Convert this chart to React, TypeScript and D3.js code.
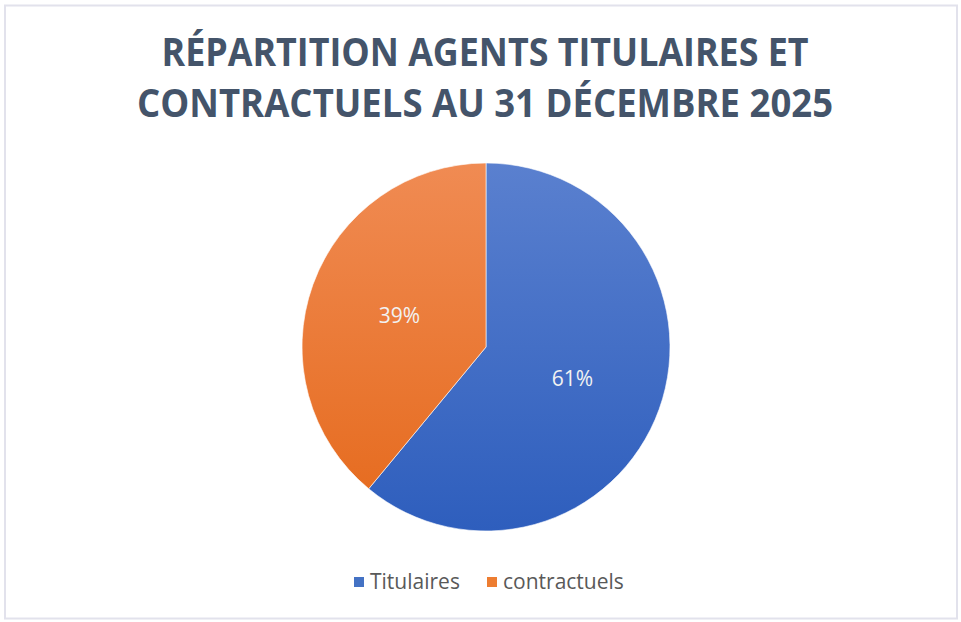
import React, { useEffect, useRef } from 'react';
import * as d3 from 'd3';

const categories = ['Titulaires', 'contractuels'];
const values = [61, 39];
const labels = ['61%', '39%'];
const titleLines = ['RÉPARTITION AGENTS TITULAIRES ET', 'CONTRACTUELS AU 31 DÉCEMBRE 2025'];

const colors = [
  { top: '#5a80cf', bottom: '#2e5ebd', solid: '#4472c4' },
  { top: '#f08b53', bottom: '#e5691b', solid: '#ed7d31' },
];

const App = () => {
  const svgRef = useRef<SVGSVGElement>(null);

  useEffect(() => {
    const svg = d3.select(svgRef.current);
    svg.selectAll('*').remove();

    const width = 961;
    const height = 622;
    const cx = 486;
    const cy = 347;
    const radius = 184;
    const font = "'Open Sans', 'Noto Sans', sans-serif";

    svg.append('rect')
      .attr('x', 0).attr('y', 0)
      .attr('width', width).attr('height', height)
      .attr('fill', '#fff');

    // frame
    svg.append('rect')
      .attr('x', 5).attr('y', 5.5)
      .attr('width', 952).attr('height', 613)
      .attr('fill', 'none')
      .attr('stroke', '#e2e2ec')
      .attr('stroke-width', 2);

    // gradients are in the pie group's coordinates (centred on 0,0)
    const defs = svg.append('defs');
    colors.forEach((c, i) => {
      const g = defs.append('linearGradient')
        .attr('id', `grad${i}`)
        .attr('gradientUnits', 'userSpaceOnUse')
        .attr('x1', 0).attr('y1', -radius)
        .attr('x2', 0).attr('y2', radius);
      g.append('stop').attr('offset', '0%').attr('stop-color', c.top);
      g.append('stop').attr('offset', '100%').attr('stop-color', c.bottom);
    });

    // title
    const title = svg.append('g')
      .attr('font-family', font)
      .attr('font-weight', 700)
      .attr('font-size', 40)
      .attr('fill', '#44546a')
      .attr('text-anchor', 'middle');
    const titleWidths = [647, 696];
    titleLines.forEach((t, i) => {
      title.append('text')
        .attr('x', 485)
        .attr('y', 66 + i * 51)
        .attr('textLength', titleWidths[i])
        .attr('lengthAdjust', 'spacingAndGlyphs')
        .text(t);
    });

    const pie = d3.pie<number>().sort(null).value(d => d);
    const arcs = pie(values);
    const arc = d3.arc<d3.PieArcDatum<number>>().innerRadius(0).outerRadius(radius);

    const g = svg.append('g').attr('transform', `translate(${cx},${cy})`);
    g.selectAll('path')
      .data(arcs)
      .join('path')
      .attr('d', arc)
      .attr('fill', (_d, i) => `url(#grad${i})`)
      .attr('stroke', '#fff')
      .attr('stroke-width', 0.6);

    g.selectAll('text.lbl')
      .data(arcs)
      .join('text')
      .attr('class', 'lbl')
      .attr('x', d => arc.centroid(d)[0])
      .attr('y', d => arc.centroid(d)[1])
      .attr('dy', '0.35em')
      .attr('text-anchor', 'middle')
      .attr('font-family', font)
      .attr('font-size', 21)
      .attr('fill', '#f2f2f2')
      .text((_d, i) => labels[i]);

    // legend
    const legendX = [354, 487];
    const legend = svg.append('g').attr('font-family', font).attr('font-size', 21).attr('fill', '#595959');
    categories.forEach((c, i) => {
      legend.append('rect')
        .attr('x', legendX[i]).attr('y', 577)
        .attr('width', 10).attr('height', 10)
        .attr('fill', colors[i].solid);
      legend.append('text')
        .attr('x', legendX[i] + 16)
        .attr('y', 589)
        .text(c);
    });
  }, []);

  return (
    <div>
      <svg ref={svgRef} width={961} height={622} style={{ position: 'absolute', left: 0, top: 0 }}></svg>
    </div>
  );
};

export default App;
